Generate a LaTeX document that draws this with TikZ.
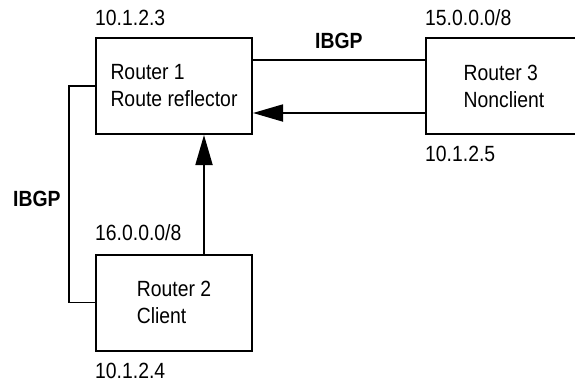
\documentclass[tikz,border=0pt]{standalone}
\usepackage{fontspec}
\setmainfont{Liberation Sans}[FakeStretch=0.88]
\usetikzlibrary{arrows.meta, positioning}
\tikzset{
  router/.style = {draw, line width=2pt, minimum width=156pt, minimum height=96pt,
                   align=left, inner sep=0pt},
  addr/.style   = {anchor=base west, inner sep=0pt},
  proto/.style  = {font=\fontsize{22pt}{27pt}\selectfont\bfseries, anchor=base west, inner sep=0pt},
  link/.style   = {line width=1.2pt},
  arrow/.style  = {-{Triangle[length=30pt, width=17pt]}, line width=1.8pt},
}

\begin{document}
\begin{tikzpicture}[x=1pt, y=1pt, every node/.style={font=\fontsize{22pt}{27pt}\selectfont}]
  \useasboundingbox (0,0) rectangle (575,-386);
  % routers
  \node[router] (r1) at (174,-86)    {Router 1\\Route reflector};
  \node[router] (r2) at (174,-302.5) {Router 2\\Client};
  \node[router] (r3) at (504,-86)    {Router 3\\Nonclient};
  % addresses
  \node[addr, yshift=12pt]  (a1) at (r1.north west) {10.1.2.3};
  \node[addr, yshift=12pt]  (n3) at (r3.north west) {15.0.0.0/8};
  \node[addr, yshift=-26pt] (a3) at (r3.south west) {10.1.2.5};
  \node[addr, yshift=13pt]  (n2) at (r2.north west) {16.0.0.0/8};
  \node[addr, yshift=-27pt] (a2) at (r2.south west) {10.1.2.4};
  % sessions
  \node[proto] (ibgp13) at (315,-48) {IBGP};
  \node[proto] (ibgp12) at (13,-206) {IBGP};
  \draw[link] ([yshift=-23pt]r1.north east) -- ([yshift=-23pt]r3.north west);
  \draw[arrow] ([yshift=22pt]r3.south west) -- ([yshift=22pt]r1.south east);
  \draw[arrow] ([xshift=30pt]r2.north) -- ([xshift=30pt]r1.south);
  \draw[link] (r1.west) -- ++(-26,0) |- (r2.west);
\end{tikzpicture}
\end{document}
